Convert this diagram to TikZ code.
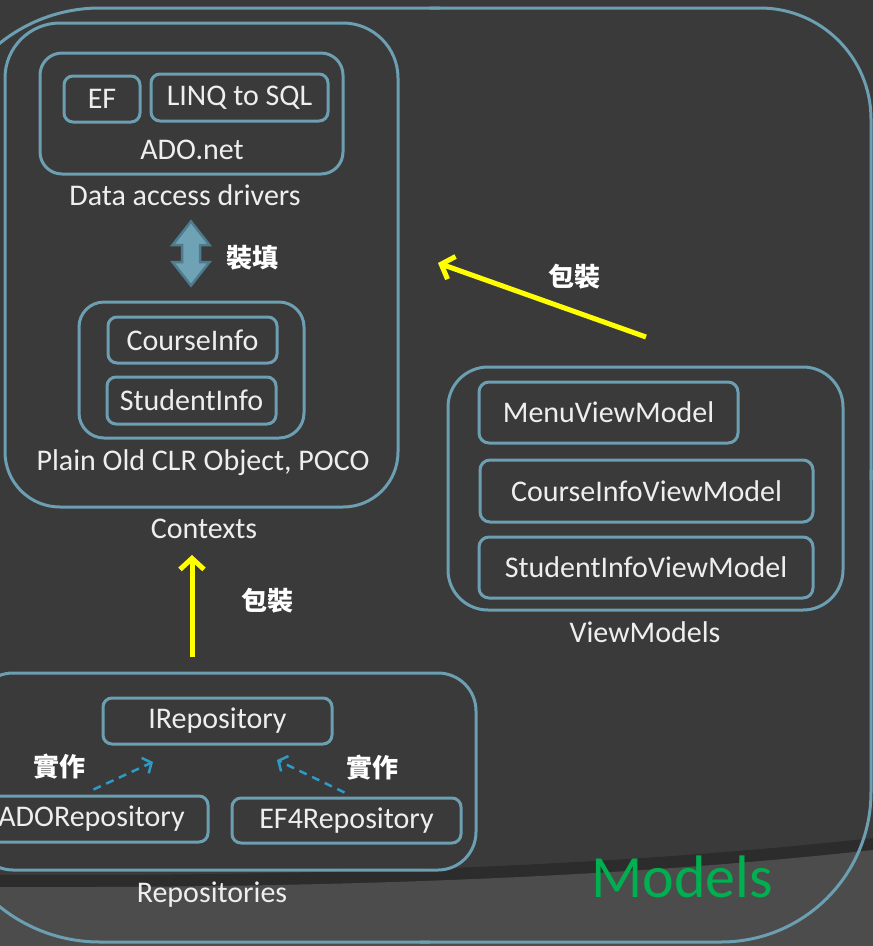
\documentclass[tikz,border=0pt]{standalone}
\usepackage{fontspec}
\setmainfont{Carlito}
\newfontfamily\cjk{Noto Sans CJK TC}
\usetikzlibrary{arrows.meta}
\definecolor{bg}{HTML}{3A3A3A}
\definecolor{band}{HTML}{4C4C4C}
\definecolor{shadowc}{HTML}{2C2C2C}
\definecolor{frame}{HTML}{6C9FB1}
\definecolor{txt}{HTML}{EEEEEE}
\definecolor{yel}{HTML}{FFFF00}
\definecolor{dashc}{HTML}{2D9BC6}
\definecolor{grn}{HTML}{00B050}
\definecolor{arrfill}{HTML}{6FA2B4}
\definecolor{arrdraw}{HTML}{4C7C8D}
\newcommand{\lblfont}{\fontsize{30}{36}\selectfont}
\newcommand{\cjkfont}{\cjk\bfseries\fontsize{26}{30}\selectfont}
\begin{document}
\begin{tikzpicture}[x=1pt,y=-1pt,
  frm/.style={draw=frame, line width=3pt, inner sep=0pt, text=txt, font=\lblfont},
  bx/.style 2 args={frm, minimum width=#1, minimum height=#2},
  lbl/.style={text=txt, font=\lblfont, inner sep=0pt},
  cj/.style={text=white, font=\cjkfont, inner sep=0pt},
  outerline/.style={draw=frame, line width=3pt},
  yarrow/.style={draw=yel, line width=5pt, -{Straight Barb[length=11pt,width=24pt]}},
  darrow/.style={draw=dashc, line width=2.5pt, dash pattern=on 8pt off 6pt, -{Straight Barb[length=7pt,width=17pt]}},
  fatarrow/.style={fill=arrfill, draw=arrdraw, line width=2.5pt, line join=miter},
]
\useasboundingbox (0,0) rectangle (873,946);
\clip (0,0) rectangle (873,946);
% background
\fill[bg] (0,0) rectangle (873,946);
\fill[shadowc] (0,875) .. controls (300,876) and (600,868) .. (873,838) -- (873,946) -- (0,946) -- cycle;
\fill[band] (0,887) .. controls (300,888) and (600,880) .. (873,850) -- (873,946) -- (0,946) -- cycle;
% outer frame
\draw[outerline] (430,8) [rounded corners=111pt] -- (871,8) -- (871,480);
\draw[outerline] (871,470) [rounded corners=150pt] -- (871,942) -- (420,942);
\draw[outerline] (430,942) [rounded corners=160pt] -- (-60,942) -- (-60,470);
\draw[outerline] (-60,480) [rounded corners=160pt] -- (-60,8) -- (440,8);

% Contexts
\node[bx={393pt}{484pt}, rounded corners=55pt] (ctx) at (201.5,265) {};
\node[bx={303pt}{121pt}, rounded corners=22pt] (ado) at (191.5,113.5) {};
\node[bx={76pt}{46pt}, rounded corners=9pt] (ef) at (102,99) {EF};
\node[bx={177pt}{47pt}, rounded corners=9pt] (linq) at (239.5,97.5) {LINQ to SQL};
\node[lbl] (adolbl) at (192,150) {ADO.net};
\node[lbl] (dad) at (185,195) {Data access drivers};
\node[bx={225pt}{136pt}, rounded corners=25pt] (poco) at (191.5,370) {};
\node[bx={169pt}{46pt}, rounded corners=9pt] (ci) at (192.5,340) {CourseInfo};
\node[bx={169pt}{47pt}, rounded corners=9pt] (si) at (191.5,400.5) {StudentInfo};
\node[lbl] (pocolbl) at (203,463) {Plain Old CLR Object, POCO};
\node[lbl] (ctxlbl) at (204,529) {Contexts};
% double arrow (load)
\coordinate (da) at (191,253.5);
\filldraw[fatarrow, shift={(da)}] (0,-32) -- (18.5,-8.5) -- (9,-8.5) -- (9,8.5) -- (18.5,8.5)
  -- (0,32) -- (-18.5,8.5) -- (-9,8.5) -- (-9,-8.5) -- (-18.5,-8.5) -- cycle;
\node[cj] (zt) at (252,258) {裝填};

% ViewModels
\node[bx={395pt}{243pt}, rounded corners=40pt] (vm) at (645.5,488.5) {};
\node[bx={259pt}{61pt}, rounded corners=10pt] (menu) at (608.5,412.5) {MenuViewModel};
\node[bx={333pt}{62pt}, rounded corners=10pt] (civm) at (646.5,491) {CourseInfoViewModel};
\node[bx={334pt}{61pt}, rounded corners=10pt] (sivm) at (646,567.5) {StudentInfoViewModel};
\node[lbl] (vmlbl) at (645,632) {ViewModels};

% Repositories
\node[bx={501pt}{197pt}, rounded corners=38pt] (repos) at (225.5,771.5) {};
\node[bx={229pt}{46pt}, rounded corners=9pt] (irepo) at (217.5,721) {IRepository};
\node[bx={233pt}{46pt}, rounded corners=9pt] (adorepo) at (91.5,819) {ADORepository};
\node[bx={229pt}{45pt}, rounded corners=9pt] (ef4) at (346.5,820.5) {EF4Repository};
\node[lbl] (replbl) at (212,895) {Repositories};
\node[cj] (sz1) at (59,767) {實作};
\node[cj] (sz2) at (372,768) {實作};

% wrapping arrows
\coordinate (yu0) at (192,657);
\coordinate (yu1) at (192,555);
\draw[yarrow] (yu0) -- (yu1);
\node[cj] (bz1) at (267,601) {包裝};
\coordinate (yd0) at (646,337);
\coordinate (yd1) at (438,263);
\draw[yarrow] (yd0) -- (yd1);
\node[cj] (bz2) at (574,277) {包裝};

% implementation arrows
\coordinate (t1) at (153,762);
\coordinate (t2) at (277,760);
\draw[darrow] (adorepo.north) ++(2,-5) -- (t1);
\draw[darrow] (ef4.north) ++(-2,-4) -- (t2);

% Models title
\node[text=grn, font=\fontsize{60}{70}\selectfont, inner sep=0pt] (models) at (682,877) {Models};
\end{tikzpicture}
\end{document}
